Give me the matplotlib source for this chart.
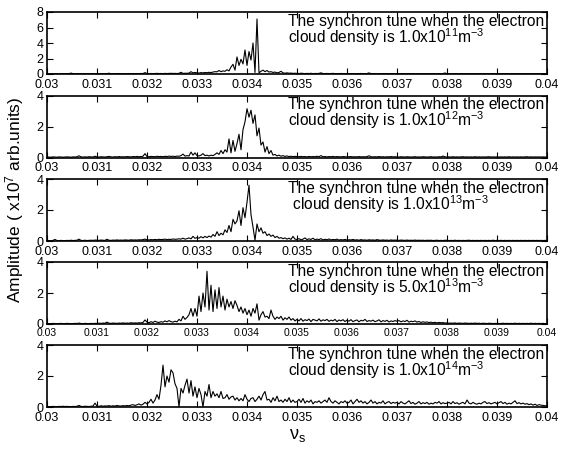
import numpy as np
import matplotlib
matplotlib.use("Agg")
import matplotlib.pyplot as plt

plt.rcParams['font.family'] = ['Liberation Sans', 'DejaVu Sans']
plt.rcParams['mathtext.fontset'] = 'custom'
plt.rcParams['mathtext.rm'] = 'Liberation Sans'
plt.rcParams['mathtext.it'] = 'Liberation Sans:italic'
plt.rcParams['mathtext.default'] = 'regular'

# Spectra sampled every 4e-5 from 0.030 to 0.040 (25 samples per 0.001 row)
amp_1e11 = [
    0.02,0.03,0.02,0.03,0.02,0.03,0.02,0.03,0.04,0.03,0.05,0.04,0.12,0.04,0.03,0.04,0.03,0.05,0.03,0.04,0.03,0.04,0.05,0.03,0.04,
    0.04,0.03,0.05,0.04,0.03,0.05,0.10,0.04,0.03,0.05,0.04,0.06,0.04,0.05,0.03,0.05,0.04,0.06,0.05,0.04,0.06,0.05,0.07,0.06,0.18,
    0.06,0.05,0.07,0.05,0.06,0.08,0.06,0.07,0.05,0.08,0.06,0.07,0.09,0.07,0.08,0.06,0.09,0.22,0.08,0.10,0.09,0.12,0.30,0.14,0.20,
    0.15,0.12,0.18,0.14,0.20,0.16,0.22,0.18,0.25,0.30,0.28,0.45,0.30,0.40,0.35,0.55,0.40,0.90,1.25,0.50,2.20,1.10,1.90,1.30,3.10,
    1.10,2.90,1.80,4.00,0.20,7.10,0.15,0.35,0.50,0.30,0.45,0.25,0.30,0.20,0.25,0.15,0.20,0.35,0.15,0.10,0.15,0.10,0.12,0.08,0.10,
    0.08,0.06,0.10,0.07,0.05,0.08,0.06,0.09,0.05,0.07,0.06,0.08,0.15,0.06,0.05,0.07,0.05,0.06,0.08,0.05,0.06,0.04,0.07,0.05,0.06,
    0.05,0.04,0.06,0.05,0.04,0.06,0.05,0.07,0.04,0.05,0.06,0.14,0.05,0.04,0.06,0.04,0.05,0.03,0.05,0.04,0.06,0.04,0.05,0.03,0.04,
    0.04,0.03,0.05,0.04,0.03,0.04,0.05,0.03,0.04,0.03,0.05,0.04,0.03,0.05,0.04,0.03,0.04,0.03,0.05,0.04,0.03,0.04,0.05,0.06,0.13,
    0.04,0.03,0.04,0.03,0.05,0.04,0.03,0.04,0.03,0.04,0.05,0.03,0.04,0.03,0.04,0.03,0.05,0.04,0.03,0.04,0.03,0.04,0.03,0.05,0.04,
    0.03,0.04,0.03,0.04,0.03,0.05,0.03,0.04,0.03,0.04,0.03,0.04,0.05,0.03,0.04,0.03,0.04,0.03,0.04,0.03,0.04,0.03,0.04,0.03,0.04,
    0.03]

amp_1e12 = [
    0.02,0.03,0.02,0.04,0.03,0.02,0.04,0.03,0.02,0.03,0.04,0.03,0.02,0.04,0.03,0.05,0.11,0.04,0.03,0.04,0.03,0.05,0.04,0.03,0.08,
    0.04,0.03,0.05,0.04,0.03,0.05,0.07,0.04,0.03,0.05,0.04,0.06,0.04,0.05,0.04,0.06,0.05,0.04,0.06,0.05,0.07,0.05,0.06,0.08,0.25,
    0.06,0.05,0.07,0.06,0.05,0.08,0.06,0.07,0.05,0.08,0.06,0.09,0.07,0.08,0.06,0.09,0.08,0.12,0.22,0.09,0.12,0.10,0.35,0.15,0.30,
    0.12,0.10,0.15,0.25,0.12,0.15,0.10,0.15,0.12,0.20,0.30,0.20,0.45,0.25,0.50,0.35,1.20,0.30,1.10,0.40,0.90,1.50,0.50,1.80,2.30,
    3.15,2.60,3.05,2.20,2.75,1.40,1.90,0.80,1.00,0.35,0.70,0.25,0.45,0.15,0.20,0.10,0.15,0.08,0.12,0.07,0.10,0.06,0.08,0.06,0.07,
    0.06,0.05,0.07,0.05,0.06,0.04,0.07,0.05,0.06,0.05,0.08,0.05,0.12,0.05,0.06,0.04,0.06,0.05,0.07,0.04,0.06,0.05,0.04,0.06,0.05,
    0.04,0.05,0.06,0.04,0.05,0.04,0.06,0.04,0.05,0.04,0.06,0.11,0.05,0.04,0.05,0.04,0.06,0.04,0.05,0.03,0.05,0.04,0.06,0.04,0.05,
    0.04,0.03,0.05,0.04,0.03,0.05,0.04,0.03,0.04,0.05,0.03,0.04,0.03,0.05,0.04,0.03,0.04,0.05,0.03,0.04,0.03,0.05,0.04,0.09,0.04,
    0.03,0.04,0.03,0.05,0.03,0.04,0.03,0.04,0.05,0.03,0.04,0.03,0.04,0.03,0.05,0.03,0.04,0.03,0.04,0.03,0.04,0.05,0.03,0.04,0.03,
    0.04,0.03,0.04,0.03,0.04,0.03,0.05,0.03,0.04,0.03,0.04,0.03,0.04,0.03,0.04,0.05,0.03,0.04,0.03,0.04,0.03,0.04,0.03,0.04,0.03,
    0.03]

amp_1e13 = [
    0.02,0.03,0.02,0.04,0.10,0.03,0.02,0.04,0.03,0.02,0.04,0.03,0.05,0.03,0.04,0.05,0.12,0.04,0.03,0.05,0.03,0.04,0.05,0.04,0.06,
    0.05,0.04,0.06,0.05,0.04,0.11,0.05,0.04,0.06,0.05,0.07,0.05,0.06,0.05,0.07,0.06,0.05,0.08,0.06,0.07,0.06,0.08,0.07,0.09,0.12,
    0.08,0.07,0.09,0.08,0.10,0.08,0.11,0.09,0.10,0.12,0.09,0.11,0.10,0.13,0.11,0.12,0.14,0.12,0.18,0.12,0.15,0.20,0.14,0.30,0.17,
    0.22,0.18,0.28,0.20,0.30,0.22,0.32,0.25,0.42,0.30,0.60,0.35,0.50,0.40,0.72,0.55,1.00,0.60,1.40,1.10,1.30,1.95,1.00,2.15,1.50,
    2.50,3.60,1.70,0.90,0.05,1.10,0.60,0.85,0.50,0.60,0.35,0.45,0.30,0.38,0.22,0.30,0.18,0.22,0.15,0.20,0.12,0.18,0.10,0.30,0.12,
    0.10,0.15,0.08,0.12,0.20,0.09,0.14,0.10,0.18,0.08,0.12,0.09,0.15,0.07,0.11,0.08,0.13,0.07,0.10,0.08,0.12,0.06,0.09,0.07,0.10,
    0.06,0.08,0.07,0.10,0.06,0.08,0.05,0.09,0.06,0.07,0.05,0.08,0.06,0.07,0.05,0.09,0.06,0.05,0.07,0.05,0.06,0.04,0.07,0.05,0.06,
    0.05,0.04,0.06,0.05,0.04,0.06,0.04,0.05,0.04,0.06,0.04,0.05,0.04,0.05,0.03,0.05,0.04,0.05,0.03,0.04,0.05,0.03,0.04,0.03,0.05,
    0.04,0.03,0.04,0.03,0.05,0.03,0.04,0.03,0.04,0.03,0.04,0.05,0.03,0.04,0.03,0.04,0.03,0.04,0.03,0.04,0.03,0.04,0.03,0.05,0.03,
    0.04,0.03,0.04,0.03,0.04,0.03,0.04,0.03,0.04,0.03,0.04,0.03,0.04,0.03,0.04,0.03,0.04,0.03,0.04,0.03,0.04,0.03,0.04,0.03,0.04,
    0.03]

amp_5e13 = [
    0.02,0.03,0.02,0.04,0.03,0.02,0.03,0.04,0.02,0.03,0.04,0.03,0.02,0.03,0.04,0.03,0.06,0.03,0.02,0.04,0.03,0.02,0.04,0.03,0.04,
    0.04,0.05,0.04,0.06,0.05,0.12,0.05,0.04,0.06,0.05,0.04,0.06,0.05,0.07,0.05,0.06,0.05,0.08,0.06,0.07,0.06,0.08,0.07,0.10,0.26,
    0.12,0.08,0.15,0.10,0.18,0.12,0.10,0.15,0.12,0.20,0.14,0.22,0.15,0.12,0.18,0.14,0.30,0.20,0.50,0.30,0.42,0.60,1.00,0.50,1.00,
    0.50,1.80,0.80,2.00,1.10,3.40,0.90,2.50,0.80,2.20,1.00,2.35,1.10,1.80,0.90,1.60,1.10,1.45,1.00,1.50,1.20,0.80,1.10,0.70,1.00,
    0.60,0.90,0.50,1.00,0.70,1.30,0.25,0.60,0.80,0.45,0.50,0.35,0.90,0.50,0.30,0.45,0.35,0.50,0.25,0.40,0.30,0.45,0.25,0.35,0.20,
    0.30,0.20,0.35,0.18,0.28,0.22,0.32,0.15,0.30,0.25,0.20,0.33,0.18,0.27,0.22,0.30,0.17,0.25,0.20,0.30,0.15,0.26,0.20,0.28,0.16,
    0.25,0.18,0.28,0.15,0.22,0.26,0.14,0.24,0.20,0.30,0.16,0.22,0.18,0.25,0.15,0.20,0.27,0.14,0.22,0.17,0.24,0.13,0.20,0.16,0.22,
    0.18,0.22,0.14,0.20,0.16,0.24,0.12,0.18,0.15,0.20,0.12,0.16,0.10,0.14,0.11,0.13,0.09,0.12,0.08,0.11,0.07,0.10,0.08,0.09,0.06,
    0.07,0.05,0.06,0.05,0.07,0.04,0.06,0.05,0.04,0.06,0.05,0.04,0.05,0.04,0.06,0.04,0.05,0.03,0.05,0.04,0.03,0.05,0.04,0.03,0.04,
    0.03,0.04,0.03,0.05,0.03,0.04,0.03,0.04,0.03,0.05,0.03,0.04,0.03,0.04,0.03,0.04,0.03,0.05,0.03,0.04,0.03,0.04,0.03,0.04,0.03,
    0.03]

amp_1e14 = [
    0.02,0.03,0.02,0.04,0.03,0.02,0.04,0.03,0.05,0.03,0.04,0.03,0.02,0.04,0.03,0.05,0.10,0.04,0.03,0.05,0.04,0.03,0.05,0.06,0.25,
    0.06,0.04,0.08,0.05,0.07,0.06,0.09,0.05,0.08,0.06,0.10,0.07,0.06,0.09,0.07,0.10,0.08,0.12,0.15,0.10,0.14,0.20,0.12,0.18,0.30,
    0.20,0.30,0.50,0.25,0.45,0.80,0.50,1.40,2.70,1.30,2.00,1.60,2.40,2.20,1.50,1.20,0.00,1.20,0.90,1.40,1.80,0.90,1.70,0.70,1.30,
    0.60,1.20,0.80,0.00,1.00,0.70,1.45,0.60,1.00,0.70,0.85,0.60,1.00,0.55,0.60,0.80,0.50,0.65,0.70,0.45,0.60,0.40,0.55,0.40,0.80,
    0.50,0.35,0.55,0.60,0.35,0.50,0.70,0.45,0.80,1.00,0.45,0.50,0.30,0.60,0.40,0.70,0.35,0.45,0.30,0.50,0.35,0.60,0.30,0.45,0.30,
    0.35,0.50,0.30,0.55,0.25,0.40,0.30,0.45,0.20,0.35,0.30,0.40,0.25,0.35,0.45,0.30,0.60,0.35,0.25,0.40,0.30,0.20,0.35,0.28,0.40,
    0.25,0.30,0.45,0.20,0.35,0.50,0.30,0.40,0.25,0.35,0.20,0.30,0.45,0.25,0.35,0.20,0.30,0.25,0.40,0.20,0.30,0.35,0.22,0.30,0.25,
    0.30,0.20,0.35,0.25,0.20,0.30,0.40,0.22,0.30,0.18,0.25,0.35,0.20,0.28,0.22,0.30,0.18,0.25,0.20,0.30,0.25,0.35,0.20,0.28,0.22,
    0.25,0.30,0.20,0.35,0.22,0.28,0.18,0.25,0.30,0.20,0.45,0.25,0.20,0.30,0.22,0.18,0.25,0.20,0.30,0.35,0.22,0.28,0.20,0.25,0.30,
    0.20,0.28,0.35,0.22,0.30,0.18,0.25,0.20,0.30,0.40,0.22,0.28,0.20,0.25,0.18,0.22,0.15,0.20,0.12,0.18,0.10,0.15,0.12,0.10,0.08,
    0.08]

spectra = [amp_1e11, amp_1e12, amp_1e13, amp_5e13, amp_1e14]
density_labels = ['1.0x10$^{11}$', '1.0x10$^{12}$', '1.0x10$^{13}$',
                  '5.0x10$^{13}$', '1.0x10$^{14}$']
line2_prefix = ['cloud', 'cloud', ' cloud', 'cloud', 'cloud']
y_limits = [8, 4, 4, 4, 4]
y_tick_sets = [[0, 2, 4, 6, 8], [0, 2, 4], [0, 2, 4], [0, 2, 4], [0, 2, 4]]
x_ticks = [0.030, 0.031, 0.032, 0.033, 0.034, 0.035, 0.036, 0.037, 0.038, 0.039, 0.040]
x_tick_labels = ['0.03', '0.031', '0.032', '0.033', '0.034', '0.035',
                 '0.036', '0.037', '0.038', '0.039', '0.04']

W, H = 562, 449
fig = plt.figure(figsize=(W / 100, H / 100), dpi=100)

left_px, width_px, height_px = 47, 500, 62
tops_px = [12, 95.5, 179, 262, 345]

for i, amp in enumerate(spectra):
    top = tops_px[i]
    ax = fig.add_axes([left_px / W, 1 - (top + height_px) / H, width_px / W, height_px / H])
    x = np.linspace(0.030, 0.040, len(amp))
    ax.plot(x, amp, color='black', lw=0.8)
    ax.set_xlim(0.030, 0.040)
    ax.set_ylim(0, y_limits[i])
    ax.set_xticks(x_ticks)
    ax.set_xticklabels(x_tick_labels)
    ax.set_yticks(y_tick_sets[i])
    ax.set_yticklabels([str(t) for t in y_tick_sets[i]])
    ax.tick_params(direction='in', top=True, right=True, length=4, width=0.8,
                   labelsize=9)
    ax.tick_params(axis='x', pad=3.5)
    ax.tick_params(axis='y', pad=2.5)
    if i == 3:
        ax.tick_params(axis='x', labelsize=7.5, pad=3)
    for s in ax.spines.values():
        s.set_linewidth(1.2)
    ax.text(0.482, 1 - 14 / height_px, 'The synchron tune when the electron',
            transform=ax.transAxes, fontsize=11.2, va='baseline', ha='left')
    ax.text(0.482, 1 - 30.7 / height_px,
            line2_prefix[i] + ' density is ' + density_labels[i] + 'm$^{-3}$',
            transform=ax.transAxes, fontsize=11.2, va='baseline', ha='left')

fig.text(15 / W, 1 - 200 / H, 'Amplitude ( x10$^{7}$ arb.units)', rotation=90,
         ha='center', va='center', fontsize=12.5)
fig.text(298 / W, 1 - 435 / H, '\u03bd$_{s}$', ha='center', va='center', fontsize=13)

fig.savefig('out.png', dpi=100)
